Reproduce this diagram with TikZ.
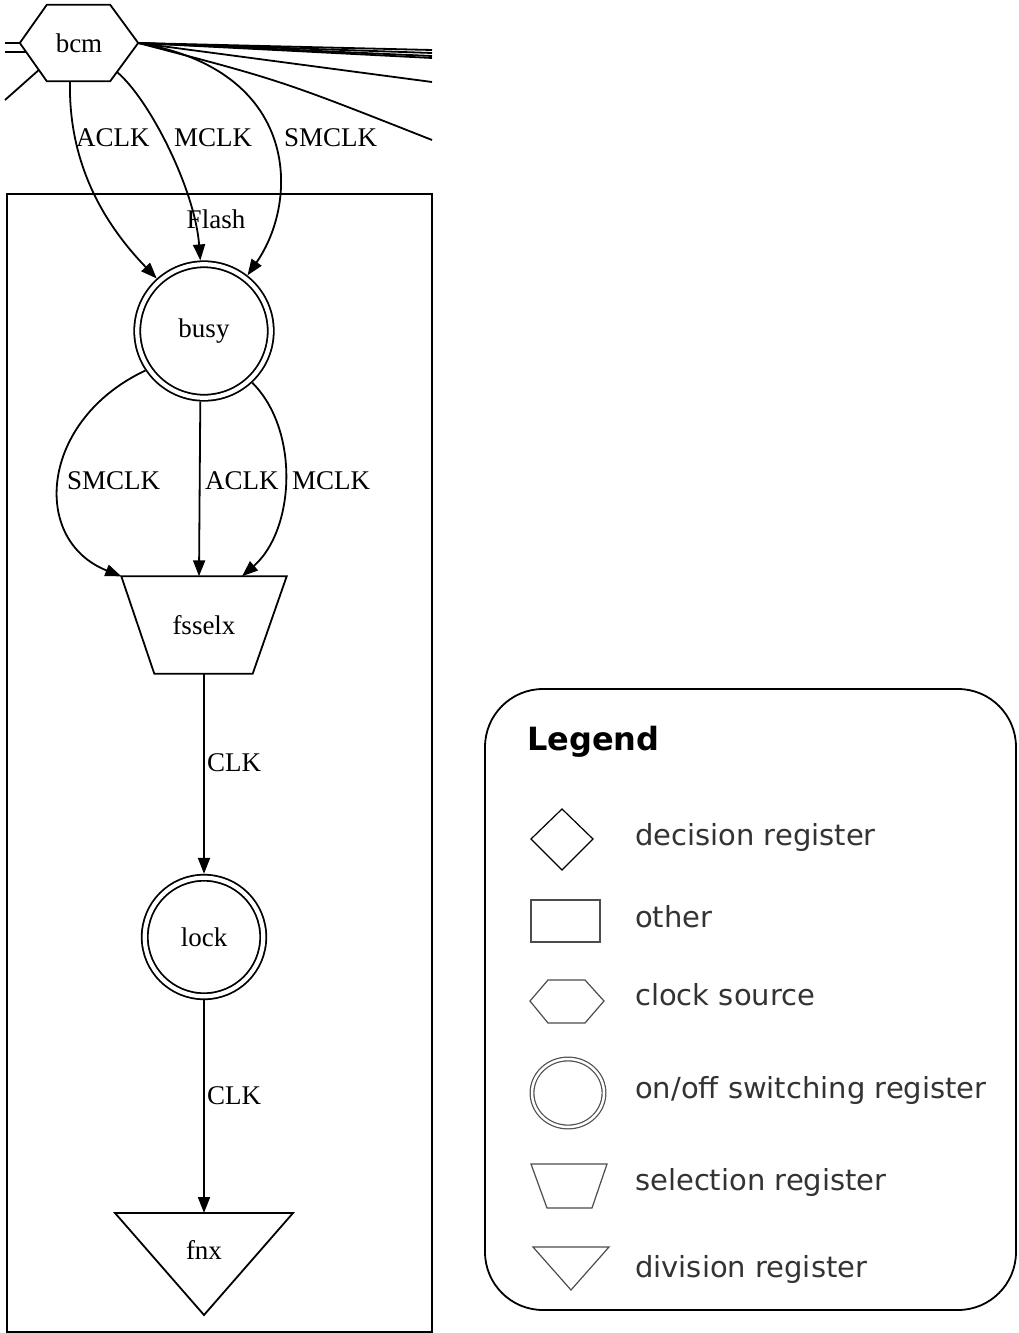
\documentclass[tikz,border=0pt]{standalone}
\usepackage{fontspec}
\setmainfont{Liberation Serif}
\newfontfamily\legfont{DejaVu Sans}
\usetikzlibrary{arrows.meta}

\tikzset{
  wire/.style={line width=1.8pt},
  clk/.style={wire,-{Triangle[length=16pt,width=12pt]}},
  lbl/.style={font=\fontsize{27}{30}\selectfont,inner sep=0pt,anchor=west},
  regbox/.style={inner sep=0pt,font=\fontsize{27}{30}\selectfont},
  onoff/.style={regbox,circle,draw,double,line width=1.8pt,double distance=4.2pt,outer sep=3.9pt},
  legtext/.style={font=\legfont\fontsize{29}{34}\selectfont,anchor=base west,inner sep=0pt,text=black!80},
  legshape/.style={line width=1.2pt,draw=black!70},
}

\begin{document}
\begin{tikzpicture}[x=1pt,y=-1pt]
\useasboundingbox (0,0) rectangle (1018,1333);

% cluster
\draw[wire] (7,194) rectangle (432,1332);
\node[regbox] (flash) at (216,219) {Flash};

% nodes
\node[regbox,minimum width=118pt,minimum height=76pt] (bcm) at (79,43) {bcm};
\draw[wire] (bcm.west) -- ([xshift=27pt]bcm.north west) -- ([xshift=-28pt]bcm.north east)
  -- (bcm.east) -- ([xshift=-28pt]bcm.south east) -- ([xshift=27pt]bcm.south west) -- cycle;

\node[onoff,minimum size=133.5pt] (busy) at (204,331) {busy};

\node[regbox,minimum width=165pt,minimum height=97pt] (fsselx) at (204,625) {fsselx};
\draw[wire] (fsselx.north west) -- (fsselx.north east) -- ([xshift=-34pt]fsselx.south east)
  -- ([xshift=33pt]fsselx.south west) -- cycle;

\node[onoff,minimum size=118.5pt] (lock) at (204,937) {lock};

\node[regbox] (fnx) at (204,1250) {fnx};
\draw[wire] ([shift={(-89,-37)}]fnx.center) -- ([shift={(89,-37)}]fnx.center)
  -- ([shift={(0,65)}]fnx.center) -- cycle;

% edges leaving the picture
\coordinate (w1) at (5,43);
\coordinate (w2) at (5,52);
\coordinate (w3) at (5,100);
\draw[wire] (bcm.west) -- (w1);
\draw[wire] ([xshift=6pt,yshift=-9pt]bcm.west) -- (w2);
\draw[wire] ([xshift=19pt,yshift=-27pt]bcm.west) -- (w3);
\foreach \y [count=\i] in {50,53,56,58,82} {
  \coordinate (e\i) at (432,\y);
  \draw[wire] (bcm.east) -- (e\i);
}
\coordinate (e6) at (432,140);
\draw[wire] (bcm.east) .. controls (280,80) .. (e6);

% bcm -> busy
\draw[clk] ([xshift=-9pt]bcm.south) .. controls (68,170) and (110,230) .. (busy.132);
\draw[clk] ([xshift=-21pt,yshift=9pt]bcm.south east) .. controls (150,100) and (195,190) .. (busy.93);
\draw[clk] (bcm.east) .. controls (300,70) and (300,200) .. (busy.52);
\node[lbl] (l1) at (76,138) {ACLK};
\node[lbl] (l2) at (174,138) {MCLK};
\node[lbl] (l3) at (284,138) {SMCLK};

% busy -> fsselx
\draw[clk] (busy.214) .. controls (40,420) and (30,540) .. (fsselx.north west);
\draw[clk] (busy.267) -- ([xshift=-5pt]fsselx.north);
\draw[clk] (busy.-47) .. controls (300,430) and (295,530) .. ([xshift=38pt]fsselx.north);
\node[lbl] (l4) at (67,481) {SMCLK};
\node[lbl] (l5) at (205,481) {ACLK};
\node[lbl] (l6) at (292,481) {MCLK};

% fsselx -> lock -> fnx
\draw[clk] (fsselx.south) -- (lock.north);
\node[lbl] (c1) at (207,763) {CLK};
\draw[clk] (lock.south) -- ([yshift=37pt]fnx.center);
\node[lbl] (c2) at (207,1096) {CLK};

% legend
\draw[wire,rounded corners=58pt] (485,689) rectangle (1016,1310);
\node[legtext,font=\legfont\bfseries\fontsize{32}{36}\selectfont,text=black] (legend) at (527,750) {Legend};

\draw[legshape,draw=black] (531,839) -- (562,809) -- (593,839) -- (562,870) -- cycle;
\draw[legshape] (531,900) rectangle (600,942);
\draw[legshape] (530,1001) -- (548,980) -- (585,980) -- (604,1001) -- (585,1023) -- (548,1023) -- cycle;
\draw[legshape,double,double distance=2.5pt] (568,1093) ellipse [x radius=36,y radius=34];
\draw[legshape] (531,1164) -- (607,1164) -- (592,1208) -- (547,1208) -- cycle;
\draw[legshape] (533,1247) -- (609,1247) -- (571,1290) -- cycle;

\node[legtext] (t1) at (635,845) {decision register};
\node[legtext] (t2) at (635,927) {other};
\node[legtext] (t3) at (635,1005) {clock source};
\node[legtext] (t4) at (635,1098) {on/off switching register};
\node[legtext] (t5) at (635,1190) {selection register};
\node[legtext] (t6) at (635,1277) {division register};

\end{tikzpicture}
\end{document}
